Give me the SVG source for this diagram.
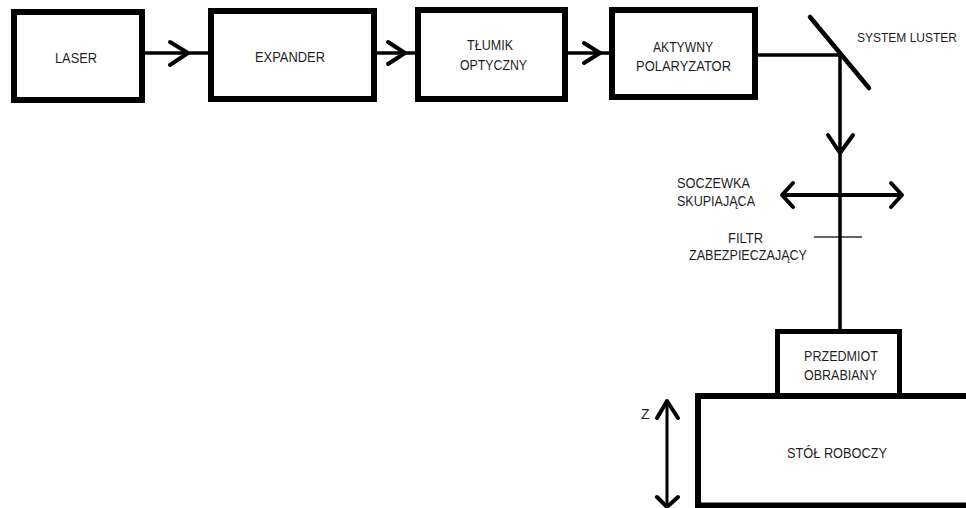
<svg xmlns="http://www.w3.org/2000/svg" width="966" height="508" viewBox="0 0 966 508">
<style>
.box{fill:none;stroke:#000;stroke-width:6}
.box5{fill:none;stroke:#000;stroke-width:5}
.ln{fill:none;stroke:#000;stroke-width:3.5}
.chev{fill:none;stroke:#000;stroke-width:4;stroke-linecap:round;stroke-linejoin:round}
.thin{fill:none;stroke:#333;stroke-width:1.6}
text{font-family:"Liberation Sans",Arial,sans-serif;font-size:15px;fill:#1f1f1f}
text.sm{font-size:13px}
text.z{font-size:14px}
</style>
<rect width="966" height="508" fill="#fff"/>
<g id="laser"><rect class="box" x="14" y="12" width="128" height="88"/><text x="55" y="63" textLength="42" lengthAdjust="spacingAndGlyphs">LASER</text></g>
<g id="expander"><rect class="box" x="211" y="11" width="163" height="88"/><text x="255" y="62" textLength="70" lengthAdjust="spacingAndGlyphs">EXPANDER</text></g>
<g id="tlumik"><rect class="box" x="418" y="10" width="147" height="89"/><text x="467" y="50" textLength="46" lengthAdjust="spacingAndGlyphs">TŁUMIK</text><text x="460" y="70" textLength="67" lengthAdjust="spacingAndGlyphs">OPTYCZNY</text></g>
<g id="polaryzator"><rect class="box" x="612" y="10" width="143" height="87"/><text x="653" y="52" textLength="60" lengthAdjust="spacingAndGlyphs">AKTYWNY</text><text x="636" y="71" textLength="95" lengthAdjust="spacingAndGlyphs">POLARYZATOR</text></g>
<g id="system-luster"><line x1="810" y1="17" x2="869" y2="88" stroke="#000" stroke-width="4.5" stroke-linecap="round"/><text class="sm" x="857" y="42" textLength="100" lengthAdjust="spacingAndGlyphs">SYSTEM LUSTER</text></g>
<g id="soczewka"><line x1="783" y1="195" x2="902" y2="195" stroke="#000" stroke-width="4"/><polyline class="chev" points="793,183 782,195 793,207"/><polyline class="chev" points="891,183 902,195 891,207"/><text x="677" y="188" textLength="73" lengthAdjust="spacingAndGlyphs">SOCZEWKA</text><text x="677" y="206" textLength="78" lengthAdjust="spacingAndGlyphs">SKUPIAJĄCA</text></g>
<g id="filtr"><line class="thin" x1="814" y1="237" x2="862" y2="237"/><text x="728" y="243" textLength="35" lengthAdjust="spacingAndGlyphs">FILTR</text><text x="689" y="260" textLength="118" lengthAdjust="spacingAndGlyphs">ZABEZPIECZAJĄCY</text></g>
<g id="przedmiot"><rect class="box5" x="777.5" y="331.5" width="122" height="64"/><text x="804" y="361" textLength="74" lengthAdjust="spacingAndGlyphs">PRZEDMIOT</text><text x="804" y="380" textLength="73" lengthAdjust="spacingAndGlyphs">OBRABIANY</text></g>
<g id="stol"><rect class="box" x="698" y="396" width="300" height="109.5"/><text x="787" y="458" textLength="100" lengthAdjust="spacingAndGlyphs">STÓŁ ROBOCZY</text></g>
<g id="z-axis"><line x1="667" y1="402" x2="667" y2="507" stroke="#000" stroke-width="3"/><polyline class="chev" points="657,418 667,401 678,418"/><polyline class="chev" points="657,497 667,507 678,497"/><text class="z" x="641" y="419">Z</text></g>
<g id="connectors">
<line class="ln" x1="145" y1="53" x2="208" y2="53"/><polyline class="chev" points="170,42 188,53 170,65"/>
<line class="ln" x1="377" y1="53" x2="415" y2="53"/><polyline class="chev" points="388,42 405,53 388,64"/>
<line class="ln" x1="568" y1="53" x2="609" y2="53"/><polyline class="chev" points="584,43 600,53 584,63"/>
<line class="ln" x1="758" y1="55" x2="840" y2="55"/>
<line class="ln" x1="840" y1="55" x2="840" y2="330"/><polyline class="chev" points="828,135 840,153 853,135"/>
</g>
</svg>
